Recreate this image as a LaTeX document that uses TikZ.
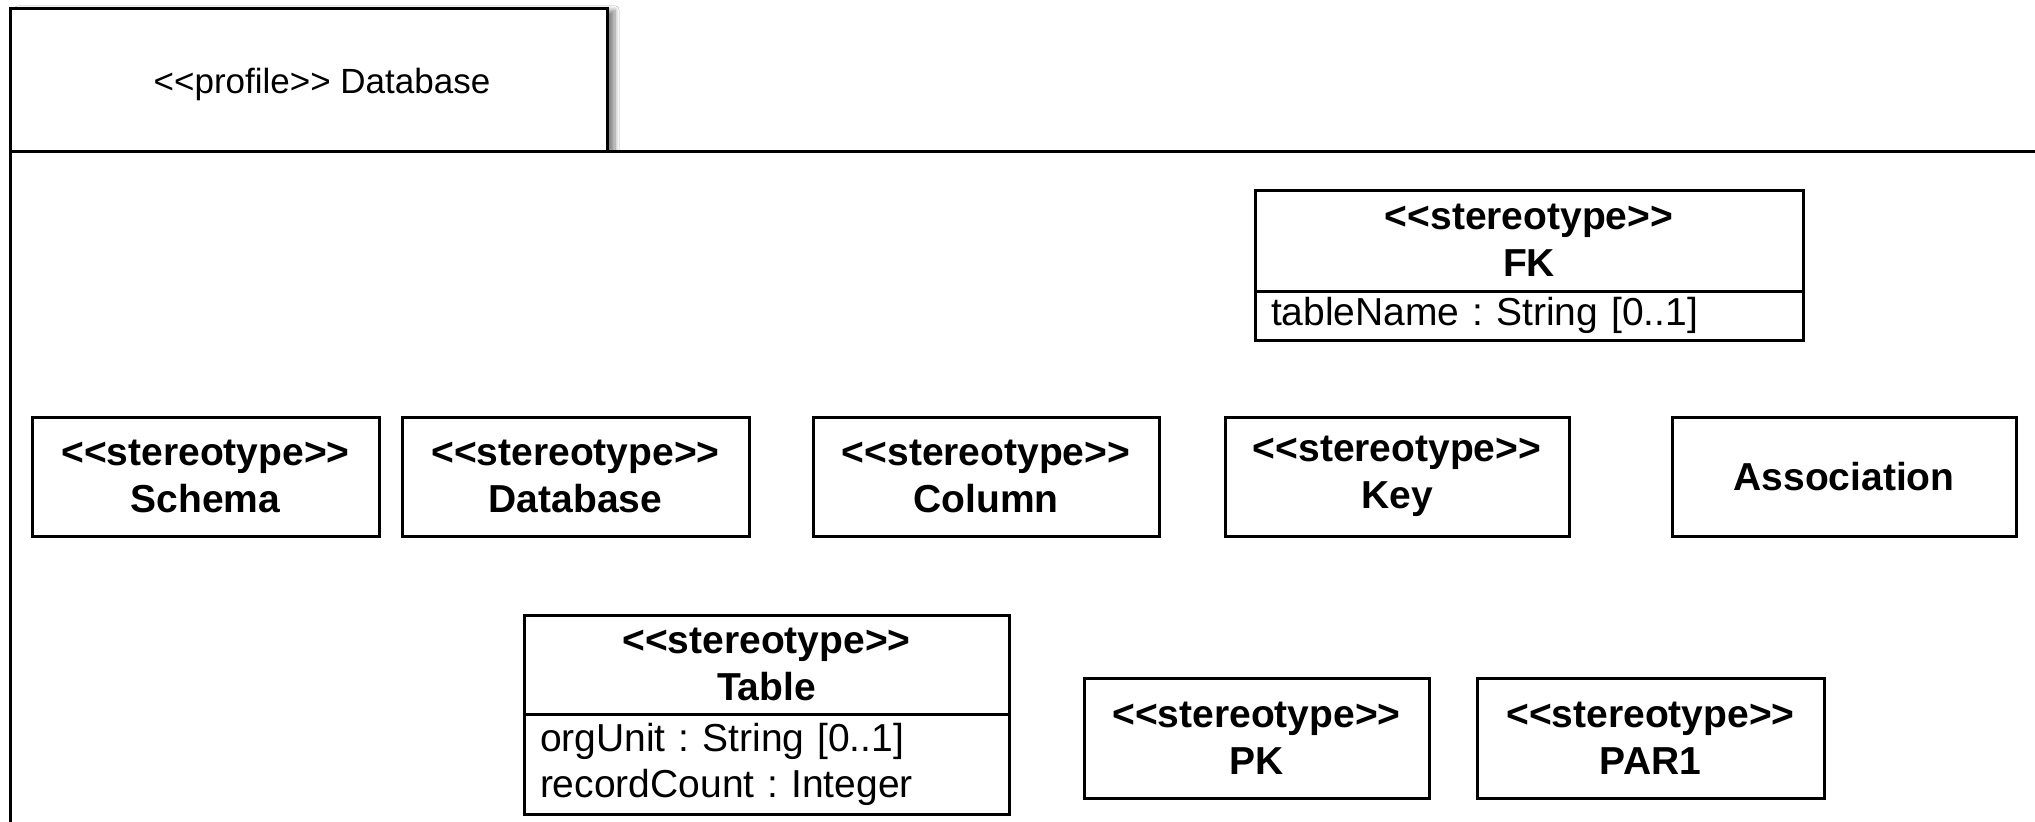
\documentclass[tikz,border=0pt]{standalone}
\usepackage{fontspec}
\setmainfont{Liberation Sans}[Ligatures=TeXOff]
\usetikzlibrary{shadows.blur}
\frenchspacing
\begin{document}
\begin{tikzpicture}[x=0.5pt,y=-0.5pt,
  every node/.style={outer sep=0pt},
  stereo/.style={draw=black, line width=1.5pt, fill=white, anchor=north west,
    inner sep=0pt, align=center, minimum height=59.5pt,
    font=\bfseries\fontsize{19.5}{23.5}\selectfont},
  header/.style={stereo},
  attrs/.style={draw=black, line width=1.5pt, fill=white, anchor=north west,
    inner xsep=8pt, inner ysep=0pt, align=left,
    font=\fontsize{19.5}{23}\selectfont},
  framepart/.style={draw=black, line width=1.5pt, fill=white}]
\useasboundingbox (0,0) rectangle (2035,821);
\fill[white] (0,0) rectangle (2035,821);
\begin{scope}
\clip (0,0) rectangle (2035,821);
% profile tab with its shadow
\node[framepart, anchor=north west, minimum width=298.5pt, minimum height=71.5pt,
  inner sep=0pt,
  blur shadow={shadow xshift=4pt, shadow yshift=-1pt, shadow opacity=45, shadow blur steps=10}]
  (tab) at (10,8) {};
\node[font=\fontsize{17.5}{20}\selectfont] (tabtext) at (322,84) {<<profile>> Database};
% package body
\fill[white] (10,151) rectangle (2100,900);
\draw[line width=1.5pt] (10,900) -- (10,151) -- (2100,151);
\end{scope}

% stereotypes in the top row
\node[stereo, minimum width=173.5pt] (schema) at (32,417) {<<stereotype>>\\Schema};
\node[stereo, minimum width=173.5pt] (database) at (402,417) {<<stereotype>>\\Database};
\node[stereo, minimum width=173pt] (column) at (813,417) {<<stereotype>>\\Column};
\node[stereo, minimum width=172pt] (key) at (1225,417) {<<stereotype>>\\Key};
\node[stereo, minimum width=172pt] (assoc) at (1672,417) {Association};

% FK with its attribute compartment
\node[header, minimum width=274pt, minimum height=50.5pt] (fk) at (1255,190) {<<stereotype>>\\FK};
\node[attrs, minimum width=274pt, minimum height=24.5pt, text width=258pt] (fkattr) at (fk.south west) {tableName : String [0..1]};

% Table with its attribute compartment
\node[header, minimum width=242.5pt, minimum height=49.5pt] (table) at (524,615) {<<stereotype>>\\Table};
\node[attrs, minimum width=242.5pt, minimum height=50pt, text width=226.5pt] (tableattr) at (table.south west) {orgUnit : String [0..1]\\recordCount : Integer};

% bottom row
\node[stereo, minimum width=172.5pt, minimum height=60pt] (pk) at (1084,678) {<<stereotype>>\\PK};
\node[stereo, minimum width=173.5pt, minimum height=60pt] (par1) at (1477,678) {<<stereotype>>\\PAR1};
\end{tikzpicture}
\end{document}
